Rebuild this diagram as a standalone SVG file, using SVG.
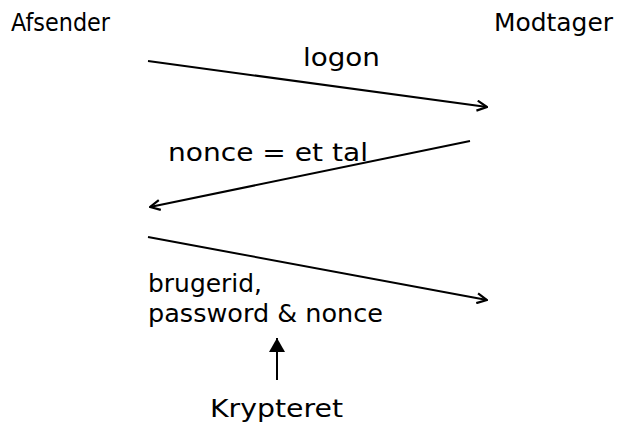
<svg xmlns="http://www.w3.org/2000/svg" width="625" height="428" viewBox="0 0 625 428">
  <style>
    text { font-family: "DejaVu Sans", "Liberation Sans", sans-serif; font-size: 25px; fill: #000; }
    .msg { stroke: #000; stroke-width: 2; fill: none; marker-end: url(#open); }
    .note { stroke: #000; stroke-width: 2; fill: none; marker-end: url(#solid); }
  </style>
  <defs>
    <marker id="open" viewBox="0 0 12 12" refX="11" refY="6" markerWidth="12" markerHeight="12" markerUnits="userSpaceOnUse" orient="auto">
      <path d="M1,1 L11,6 L1,11" fill="none" stroke="#000" stroke-width="2.2"/>
    </marker>
    <marker id="solid" viewBox="0 0 14 16" refX="14" refY="8" markerWidth="14" markerHeight="16" markerUnits="userSpaceOnUse" orient="auto">
      <path d="M0,0 L14,8 L0,16 Z" fill="#000"/>
    </marker>
  </defs>

  <g id="afsender"><text x="11" y="31" textLength="99" lengthAdjust="spacingAndGlyphs">Afsender</text></g>
  <g id="modtager"><text x="494" y="31" textLength="119" lengthAdjust="spacingAndGlyphs">Modtager</text></g>

  <g id="connectors">
    <line class="msg" x1="148" y1="61" x2="487" y2="107"/>
    <line class="msg" x1="470" y1="141" x2="150" y2="207"/>
    <line class="msg" x1="148" y1="237" x2="487" y2="300"/>
    <line class="note" x1="277" y1="380" x2="277" y2="338"/>
  </g>

  <g id="label-logon"><text x="303" y="66" textLength="77" lengthAdjust="spacingAndGlyphs">logon</text></g>
  <g id="label-nonce"><text x="168" y="161" textLength="200" lengthAdjust="spacingAndGlyphs">nonce = et tal</text></g>
  <g id="label-data">
    <text x="148" y="292" textLength="114" lengthAdjust="spacingAndGlyphs">brugerid,</text>
    <text x="148" y="322" textLength="235" lengthAdjust="spacingAndGlyphs">password &amp; nonce</text>
  </g>
  <g id="krypteret"><text x="210" y="417" textLength="133" lengthAdjust="spacingAndGlyphs">Krypteret</text></g>
</svg>
